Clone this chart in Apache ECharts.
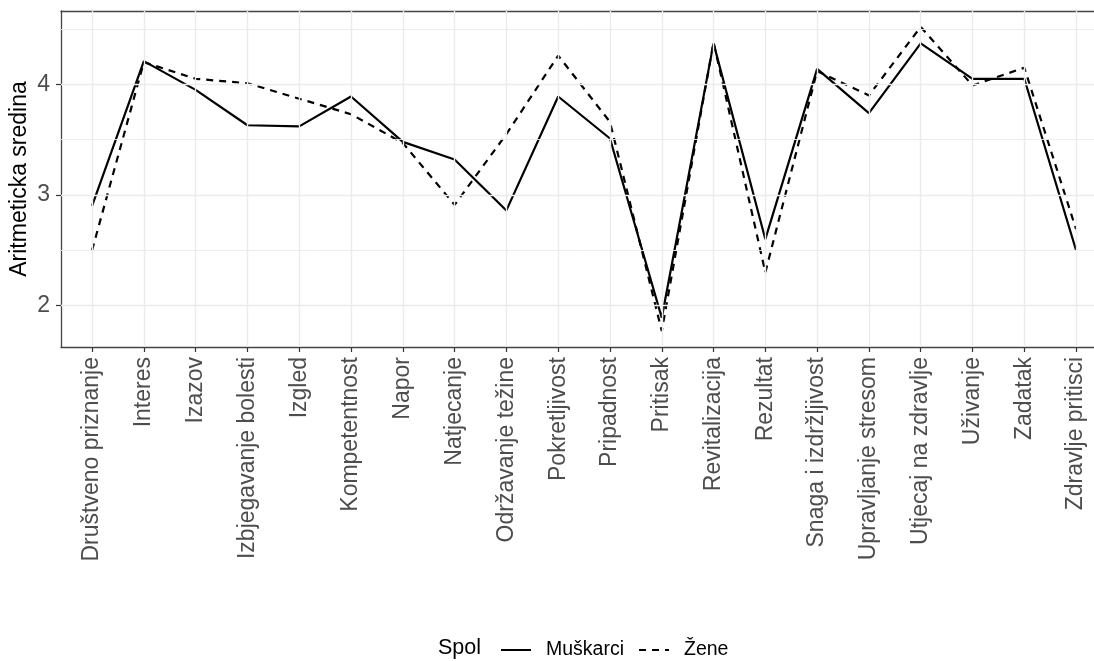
<!DOCTYPE html>
<html>
<head>
<meta charset="utf-8">
<script src="https://cdn.jsdelivr.net/npm/echarts@6/dist/echarts.min.js"></script>
<style>
html,body{margin:0;padding:0;background:#fff;}
#chart{width:1094px;height:661px;}
</style>
</head>
<body>
<div id="chart"></div>
<script>
const categories = ["Društveno priznanje","Interes","Izazov","Izbjegavanje bolesti","Izgled","Kompetentnost","Napor","Natjecanje","Održavanje težine","Pokretljivost","Pripadnost","Pritisak","Revitalizacija","Rezultat","Snaga i izdržljivost","Upravljanje stresom","Utjecaj na zdravlje","Uživanje","Zadatak","Zdravlje pritisci"];
const muskarci = [2.90,4.21,3.95,3.63,3.62,3.89,3.48,3.32,2.86,3.89,3.51,1.89,4.37,2.60,4.14,3.74,4.37,4.05,4.05,2.50];
const zene     = [2.50,4.20,4.05,4.01,3.87,3.73,3.47,2.91,3.55,4.26,3.66,1.77,4.38,2.30,4.12,3.90,4.52,3.99,4.15,2.69];
const yTicks = [2,3,4];
const yMinorTicks = [2.5,3.5,4.5];
const legendTitle = "Spol";
const yTitle = "Aritmeticka sredina";

const FONT = "'Liberation Sans', Arial, sans-serif";
const idx = categories.map((c,i)=>i);
const toPts = arr => arr.map((v,i)=>[i,v]);

const gridLines = []
  .concat(yTicks.map(v=>({yAxis:v, lineStyle:{width:1.4}})))
  .concat(yMinorTicks.map(v=>({yAxis:v, lineStyle:{width:0.9}})))
  .concat(idx.map(i=>({xAxis:i, lineStyle:{width:1.4}})));

const border = {show:true, onZero:false, lineStyle:{color:'#444444', width:1.3}};

const chart = echarts.init(document.getElementById('chart'), null, {renderer:'canvas'});
chart.setOption({
  animation:false,
  backgroundColor:'#ffffff',
  grid:{left:61, top:11, right:0, height:336, show:false, outerBoundsMode:'none', containLabel:false},
  xAxis:[{
    type:'value', min:-0.6, max:19.346, position:'bottom',
    axisLine:border,
    splitLine:{show:false},
    axisTick:{show:true, length:5, lineStyle:{color:'#333333', width:1.2}, customValues:idx},
    axisLabel:{customValues:idx, rotate:90, margin:10, fontSize:23, fontFamily:FONT, color:'#4D4D4D',
      formatter:v=>categories[Math.round(v)]}
  },{
    type:'value', min:-0.6, max:19.346, position:'top',
    axisLine:border, splitLine:{show:false}, axisTick:{show:false}, axisLabel:{show:false}
  }],
  yAxis:{
    type:'value', min:1.625, max:4.663,
    axisLine:border,
    splitLine:{show:false},
    axisTick:{show:true, length:5, lineStyle:{color:'#333333', width:1.2}, customValues:yTicks},
    axisLabel:{customValues:yTicks, margin:11, fontSize:23, fontFamily:FONT, color:'#4D4D4D'}
  },
  legend:{
    data:['Muškarci','Žene'],
    left:500, top:640, padding:0, itemWidth:30, itemHeight:14, itemGap:14,
    itemStyle:{opacity:0},
    textStyle:{fontSize:19.5, fontFamily:FONT, color:'#000', padding:[0,0,0,10]}
  },
  graphic:[
    {type:'text', x:20, y:179, rotation:Math.PI/2,
      style:{text:yTitle, fontSize:23, fontFamily:FONT, fill:'#000', align:'center', verticalAlign:'middle'}},
    {type:'text', x:438, y:648,
      style:{text:legendTitle, fontSize:21.5, fontFamily:FONT, fill:'#000', align:'left', verticalAlign:'middle'}}
  ],
  series:[
    {name:'grid', type:'line', data:[], z:1, silent:true,
      markLine:{silent:true, symbol:['none','none'], label:{show:false}, animation:false,
        lineStyle:{color:'#EBEBEB', type:'solid', width:1.4}, data:gridLines}},
    {name:'Muškarci', type:'line', data:toPts(muskarci), symbol:'none', z:3,
      lineStyle:{color:'#000', width:2.2, type:'solid'}, itemStyle:{color:'#000'}},
    {name:'Žene', type:'line', data:toPts(zene), symbol:'none', z:3,
      lineStyle:{color:'#000', width:2.2, type:[7,6]}, itemStyle:{color:'#000'}}
  ]
});
</script>
</body>
</html>
